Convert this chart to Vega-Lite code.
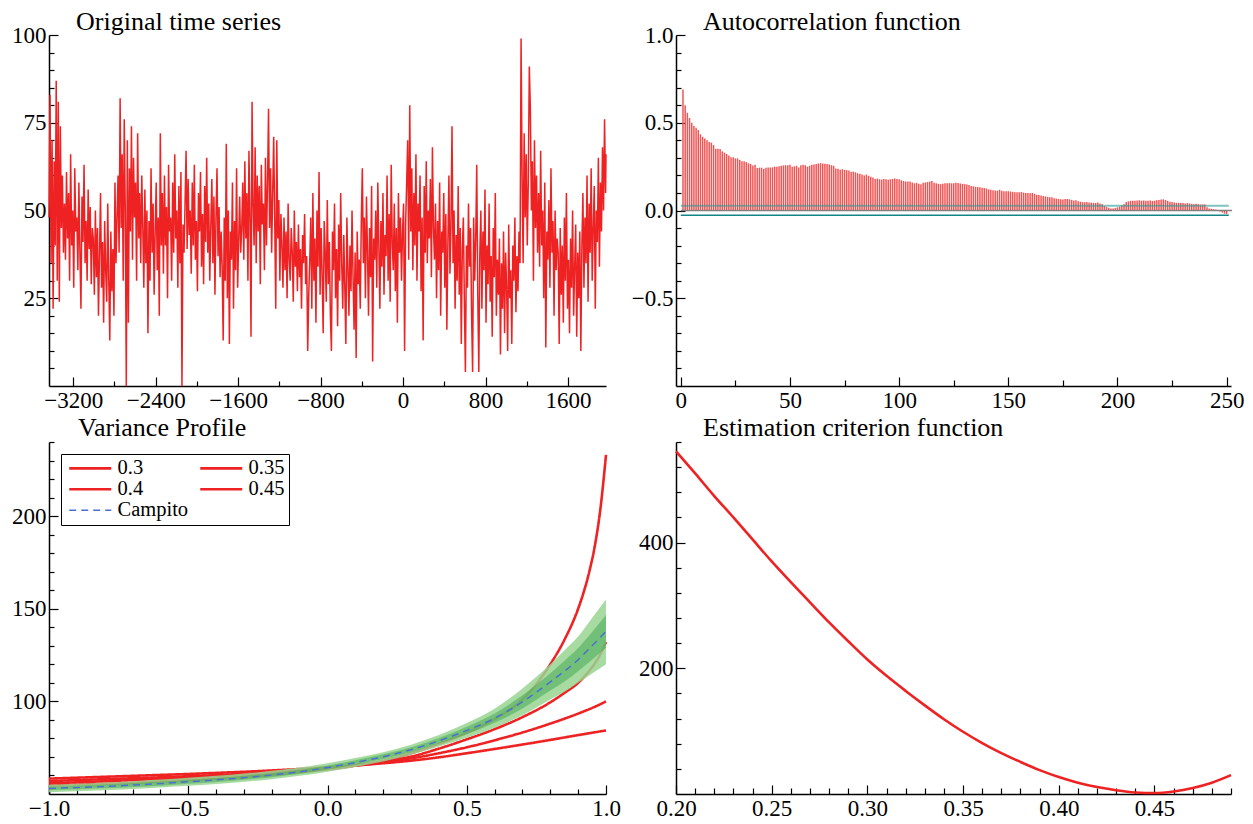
{
"$schema": "https://vega.github.io/schema/vega-lite/v6.json",
"background": "white",
"padding": {"left": 11, "top": 9, "right": 5, "bottom": 0},
"datasets": {
"ts": [
{"yr":-3435,"w":48},{"yr":-3425,"w":83},{"yr":-3415,"w":35},{"yr":-3405,"w":70},{"yr":-3395,"w":22},{"yr":-3385,"w":64},{"yr":-3375,"w":40},{"yr":-3365,"w":87},{"yr":-3355,"w":30},{"yr":-3345,"w":81},{"yr":-3335,"w":24},{"yr":-3325,"w":74},{"yr":-3315,"w":45},{"yr":-3305,"w":60},{"yr":-3295,"w":38},
{"yr":-3285,"w":52},{"yr":-3275,"w":36},{"yr":-3265,"w":61},{"yr":-3255,"w":42},{"yr":-3245,"w":55},{"yr":-3235,"w":30},{"yr":-3225,"w":66},{"yr":-3215,"w":40},{"yr":-3205,"w":50},{"yr":-3195,"w":28},{"yr":-3185,"w":62},{"yr":-3175,"w":44},{"yr":-3165,"w":48},{"yr":-3155,"w":33},{"yr":-3145,"w":58},{"yr":-3135,"w":38},{"yr":-3125,"w":22},{"yr":-3115,"w":54},{"yr":-3105,"w":41},{"yr":-3095,"w":63},{"yr":-3085,"w":35},{"yr":-3075,"w":47},{"yr":-3065,"w":30},{"yr":-3055,"w":56},{"yr":-3045,"w":39},{"yr":-3035,"w":51},{"yr":-3025,"w":29},{"yr":-3015,"w":45},
{"yr":-3005,"w":42},{"yr":-2995,"w":26},{"yr":-2985,"w":50},{"yr":-2975,"w":31},{"yr":-2965,"w":45},{"yr":-2955,"w":20},{"yr":-2945,"w":38},{"yr":-2935,"w":55},{"yr":-2925,"w":28},{"yr":-2915,"w":41},{"yr":-2905,"w":18},{"yr":-2895,"w":47},{"yr":-2885,"w":33},{"yr":-2875,"w":24},{"yr":-2865,"w":52},{"yr":-2855,"w":30},{"yr":-2845,"w":13},{"yr":-2835,"w":44},{"yr":-2825,"w":27},{"yr":-2815,"w":39},{"yr":-2805,"w":20},{"yr":-2795,"w":58},{"yr":-2785,"w":35},{"yr":-2775,"w":48},
{"yr":-2765,"w":60},{"yr":-2755,"w":38},{"yr":-2745,"w":82},{"yr":-2735,"w":45},{"yr":-2725,"w":66},{"yr":-2715,"w":30},{"yr":-2705,"w":76},{"yr":-2695,"w":50},{"yr":-2685,"w":0},{"yr":-2675,"w":70},{"yr":-2665,"w":18},{"yr":-2655,"w":62},{"yr":-2645,"w":44},{"yr":-2635,"w":74},{"yr":-2625,"w":36},{"yr":-2615,"w":65},{"yr":-2605,"w":48},{"yr":-2595,"w":58},{"yr":-2585,"w":30},{"yr":-2575,"w":72},{"yr":-2565,"w":42},{"yr":-2555,"w":55},{"yr":-2545,"w":35},{"yr":-2535,"w":60},
{"yr":-2525,"w":45},{"yr":-2515,"w":28},{"yr":-2505,"w":56},{"yr":-2495,"w":35},{"yr":-2485,"w":50},{"yr":-2475,"w":15},{"yr":-2465,"w":47},{"yr":-2455,"w":30},{"yr":-2445,"w":62},{"yr":-2435,"w":38},{"yr":-2425,"w":52},{"yr":-2415,"w":26},{"yr":-2405,"w":44},{"yr":-2395,"w":58},{"yr":-2385,"w":33},{"yr":-2375,"w":48},{"yr":-2365,"w":20},{"yr":-2355,"w":72},{"yr":-2345,"w":40},
{"yr":-2335,"w":55},{"yr":-2325,"w":32},{"yr":-2315,"w":60},{"yr":-2305,"w":40},{"yr":-2295,"w":51},{"yr":-2285,"w":25},{"yr":-2275,"w":63},{"yr":-2265,"w":44},{"yr":-2255,"w":48},{"yr":-2245,"w":30},{"yr":-2235,"w":58},{"yr":-2225,"w":38},{"yr":-2215,"w":66},{"yr":-2205,"w":42},{"yr":-2195,"w":50},{"yr":-2185,"w":28},{"yr":-2175,"w":57},{"yr":-2165,"w":35},{"yr":-2155,"w":61},{"yr":-2145,"w":0},{"yr":-2135,"w":46},{"yr":-2125,"w":38},{"yr":-2115,"w":52},{"yr":-2105,"w":67},{"yr":-2095,"w":39},{"yr":-2085,"w":59},{"yr":-2075,"w":43},
{"yr":-2065,"w":50},{"yr":-2055,"w":32},{"yr":-2045,"w":58},{"yr":-2035,"w":40},{"yr":-2025,"w":63},{"yr":-2015,"w":36},{"yr":-2005,"w":47},{"yr":-1995,"w":27},{"yr":-1985,"w":55},{"yr":-1975,"w":44},{"yr":-1965,"w":61},{"yr":-1955,"w":34},{"yr":-1945,"w":49},{"yr":-1935,"w":29},{"yr":-1925,"w":57},{"yr":-1915,"w":41},{"yr":-1905,"w":65},{"yr":-1895,"w":38},{"yr":-1885,"w":52},{"yr":-1875,"w":30},{"yr":-1865,"w":46},{"yr":-1855,"w":59},{"yr":-1845,"w":35},{"yr":-1835,"w":54},{"yr":-1825,"w":26},{"yr":-1815,"w":48},{"yr":-1805,"w":62},{"yr":-1795,"w":37},{"yr":-1785,"w":51},{"yr":-1775,"w":31},{"yr":-1765,"w":44},
{"yr":-1755,"w":34},{"yr":-1745,"w":13},{"yr":-1735,"w":48},{"yr":-1725,"w":30},{"yr":-1715,"w":69},{"yr":-1705,"w":25},{"yr":-1695,"w":50},{"yr":-1685,"w":12},{"yr":-1675,"w":44},{"yr":-1665,"w":36},{"yr":-1655,"w":58},{"yr":-1645,"w":22},{"yr":-1635,"w":47},{"yr":-1625,"w":33},{"yr":-1615,"w":62},{"yr":-1605,"w":28},{"yr":-1595,"w":41},{"yr":-1585,"w":54},{"yr":-1575,"w":38},
{"yr":-1565,"w":45},{"yr":-1555,"w":58},{"yr":-1545,"w":36},{"yr":-1535,"w":64},{"yr":-1525,"w":42},{"yr":-1515,"w":55},{"yr":-1505,"w":30},{"yr":-1495,"w":67},{"yr":-1485,"w":48},{"yr":-1475,"w":14},{"yr":-1465,"w":81},{"yr":-1455,"w":52},{"yr":-1445,"w":40},{"yr":-1435,"w":68},{"yr":-1425,"w":35},{"yr":-1415,"w":60},{"yr":-1405,"w":44},{"yr":-1395,"w":57},{"yr":-1385,"w":29},{"yr":-1375,"w":63},{"yr":-1365,"w":46},{"yr":-1355,"w":52},{"yr":-1345,"w":33},{"yr":-1335,"w":65},{"yr":-1325,"w":40},{"yr":-1315,"w":58},{"yr":-1305,"w":79},{"yr":-1295,"w":45},{"yr":-1285,"w":62},{"yr":-1275,"w":38},{"yr":-1265,"w":55},{"yr":-1255,"w":71},{"yr":-1245,"w":47},{"yr":-1235,"w":22},{"yr":-1225,"w":70},{"yr":-1215,"w":42},{"yr":-1205,"w":53},{"yr":-1195,"w":30},{"yr":-1185,"w":49},
{"yr":-1175,"w":40},{"yr":-1165,"w":28},{"yr":-1155,"w":48},{"yr":-1145,"w":33},{"yr":-1135,"w":44},{"yr":-1125,"w":25},{"yr":-1115,"w":52},{"yr":-1105,"w":36},{"yr":-1095,"w":30},{"yr":-1085,"w":45},{"yr":-1075,"w":38},{"yr":-1065,"w":24},{"yr":-1055,"w":50},{"yr":-1045,"w":34},{"yr":-1035,"w":41},{"yr":-1025,"w":27},{"yr":-1015,"w":46},{"yr":-1005,"w":31},{"yr":-995,"w":39},{"yr":-985,"w":22},{"yr":-975,"w":43},{"yr":-965,"w":35},{"yr":-955,"w":49},{"yr":-945,"w":29},{"yr":-935,"w":37},{"yr":-925,"w":10},{"yr":-915,"w":26},
{"yr":-905,"w":36},{"yr":-895,"w":48},{"yr":-885,"w":22},{"yr":-875,"w":55},{"yr":-865,"w":30},{"yr":-855,"w":42},{"yr":-845,"w":18},{"yr":-835,"w":50},{"yr":-825,"w":34},{"yr":-815,"w":61},{"yr":-805,"w":26},{"yr":-795,"w":45},{"yr":-785,"w":32},{"yr":-775,"w":15},{"yr":-765,"w":47},{"yr":-755,"w":38},{"yr":-745,"w":24},{"yr":-735,"w":53},{"yr":-725,"w":29},{"yr":-715,"w":41},{"yr":-705,"w":20},{"yr":-695,"w":10},{"yr":-685,"w":44},{"yr":-675,"w":33},{"yr":-665,"w":52},{"yr":-655,"w":25},{"yr":-645,"w":39},{"yr":-635,"w":17},{"yr":-625,"w":46},{"yr":-615,"w":30},{"yr":-605,"w":55},{"yr":-595,"w":35},{"yr":-585,"w":22},{"yr":-575,"w":43},{"yr":-565,"w":28},{"yr":-555,"w":12},{"yr":-545,"w":48},{"yr":-535,"w":34},{"yr":-525,"w":20},{"yr":-515,"w":40},{"yr":-505,"w":27},{"yr":-495,"w":50},{"yr":-485,"w":31},{"yr":-475,"w":16},{"yr":-465,"w":38},{"yr":-455,"w":8},{"yr":-445,"w":44},{"yr":-435,"w":29},{"yr":-425,"w":36},{"yr":-415,"w":22},{"yr":-405,"w":47},
{"yr":-395,"w":62},{"yr":-385,"w":35},{"yr":-375,"w":48},{"yr":-365,"w":25},{"yr":-355,"w":54},{"yr":-345,"w":38},{"yr":-335,"w":20},{"yr":-325,"w":45},{"yr":-315,"w":31},{"yr":-305,"w":57},{"yr":-295,"w":7},{"yr":-285,"w":42},{"yr":-275,"w":36},{"yr":-265,"w":50},{"yr":-255,"w":28},{"yr":-245,"w":58},{"yr":-235,"w":40},{"yr":-225,"w":22},{"yr":-215,"w":47},{"yr":-205,"w":34},{"yr":-195,"w":55},{"yr":-185,"w":26},{"yr":-175,"w":43},{"yr":-165,"w":37},{"yr":-155,"w":60},{"yr":-145,"w":30},{"yr":-135,"w":49},{"yr":-125,"w":24},{"yr":-115,"w":63},{"yr":-105,"w":41},{"yr":-95,"w":33},{"yr":-85,"w":52},{"yr":-75,"w":27},{"yr":-65,"w":45},{"yr":-55,"w":18},{"yr":-45,"w":55},{"yr":-35,"w":38},{"yr":-25,"w":48},{"yr":-15,"w":30},{"yr":-5,"w":44},
{"yr":5,"w":52},{"yr":15,"w":10},{"yr":25,"w":46},{"yr":35,"w":58},{"yr":45,"w":70},{"yr":55,"w":36},{"yr":65,"w":80},{"yr":75,"w":44},{"yr":85,"w":62},{"yr":95,"w":33},{"yr":105,"w":55},{"yr":115,"w":40},{"yr":125,"w":66},{"yr":135,"w":30},{"yr":145,"w":52},{"yr":155,"w":44},{"yr":165,"w":60},{"yr":175,"w":27},{"yr":185,"w":48},{"yr":195,"w":13},{"yr":205,"w":57},{"yr":215,"w":38},{"yr":225,"w":64},{"yr":235,"w":35},{"yr":245,"w":50},{"yr":255,"w":42},{"yr":265,"w":59},{"yr":275,"w":31},{"yr":285,"w":68},{"yr":295,"w":45},
{"yr":305,"w":36},{"yr":315,"w":52},{"yr":325,"w":25},{"yr":335,"w":47},{"yr":345,"w":33},{"yr":355,"w":58},{"yr":365,"w":20},{"yr":375,"w":44},{"yr":385,"w":38},{"yr":395,"w":55},{"yr":405,"w":28},{"yr":415,"w":49},{"yr":425,"w":16},{"yr":435,"w":41},{"yr":445,"w":60},{"yr":455,"w":32},{"yr":465,"w":46},{"yr":475,"w":74},{"yr":485,"w":35},{"yr":495,"w":50},{"yr":505,"w":22},{"yr":515,"w":43},{"yr":525,"w":30},{"yr":535,"w":57},{"yr":545,"w":26},{"yr":555,"w":45},{"yr":565,"w":12},{"yr":575,"w":39},{"yr":585,"w":48},{"yr":595,"w":24},{"yr":605,"w":4},
{"yr":615,"w":40},{"yr":625,"w":28},{"yr":635,"w":52},{"yr":645,"w":34},{"yr":655,"w":45},{"yr":665,"w":20},{"yr":675,"w":4},{"yr":685,"w":48},{"yr":695,"w":30},{"yr":705,"w":42},{"yr":715,"w":63},{"yr":725,"w":26},{"yr":735,"w":4},{"yr":745,"w":38},{"yr":755,"w":50},{"yr":765,"w":22},{"yr":775,"w":44},{"yr":785,"w":33},{"yr":795,"w":56},{"yr":805,"w":18},{"yr":815,"w":40},{"yr":825,"w":29},{"yr":835,"w":52},{"yr":845,"w":24},{"yr":855,"w":37},{"yr":865,"w":14},{"yr":875,"w":45},{"yr":885,"w":31},{"yr":895,"w":55},{"yr":905,"w":20},{"yr":915,"w":36},
{"yr":925,"w":26},{"yr":935,"w":42},{"yr":945,"w":9},{"yr":955,"w":35},{"yr":965,"w":22},{"yr":975,"w":44},{"yr":985,"w":15},{"yr":995,"w":38},{"yr":1005,"w":28},{"yr":1015,"w":10},{"yr":1025,"w":46},{"yr":1035,"w":25},{"yr":1045,"w":33},{"yr":1055,"w":12},{"yr":1065,"w":40},{"yr":1075,"w":30},{"yr":1085,"w":48},{"yr":1095,"w":21},{"yr":1105,"w":37},{"yr":1115,"w":27},{"yr":1125,"w":44},{"yr":1135,"w":35},{"yr":1145,"w":99},
{"yr":1155,"w":60},{"yr":1165,"w":35},{"yr":1175,"w":72},{"yr":1185,"w":48},{"yr":1195,"w":66},{"yr":1205,"w":40},{"yr":1215,"w":58},{"yr":1225,"w":91},{"yr":1235,"w":79},{"yr":1245,"w":50},{"yr":1255,"w":64},{"yr":1265,"w":30},{"yr":1275,"w":70},{"yr":1285,"w":45},{"yr":1295,"w":60},{"yr":1305,"w":38},
{"yr":1315,"w":55},{"yr":1325,"w":34},{"yr":1335,"w":67},{"yr":1345,"w":40},{"yr":1355,"w":50},{"yr":1365,"w":25},{"yr":1375,"w":58},{"yr":1385,"w":11},{"yr":1395,"w":44},{"yr":1405,"w":36},{"yr":1415,"w":53},{"yr":1425,"w":28},{"yr":1435,"w":62},{"yr":1445,"w":38},{"yr":1455,"w":47},{"yr":1465,"w":20},{"yr":1475,"w":50},{"yr":1485,"w":33},{"yr":1495,"w":42},
{"yr":1505,"w":38},{"yr":1515,"w":12},{"yr":1525,"w":45},{"yr":1535,"w":26},{"yr":1545,"w":40},{"yr":1555,"w":18},{"yr":1565,"w":48},{"yr":1575,"w":30},{"yr":1585,"w":55},{"yr":1595,"w":22},{"yr":1605,"w":36},{"yr":1615,"w":15},{"yr":1625,"w":42},{"yr":1635,"w":28},{"yr":1645,"w":50},{"yr":1655,"w":20},{"yr":1665,"w":34},{"yr":1675,"w":46},{"yr":1685,"w":14},{"yr":1695,"w":38},{"yr":1705,"w":25},{"yr":1715,"w":44},{"yr":1725,"w":10},
{"yr":1735,"w":40},{"yr":1745,"w":55},{"yr":1755,"w":28},{"yr":1765,"w":48},{"yr":1775,"w":35},{"yr":1785,"w":60},{"yr":1795,"w":24},{"yr":1805,"w":52},{"yr":1815,"w":38},{"yr":1825,"w":62},{"yr":1835,"w":30},{"yr":1845,"w":45},{"yr":1855,"w":57},{"yr":1865,"w":22},{"yr":1875,"w":50},{"yr":1885,"w":41},{"yr":1895,"w":65},{"yr":1905,"w":34},{"yr":1915,"w":58},{"yr":1925,"w":44},{"yr":1935,"w":68},{"yr":1945,"w":50},{"yr":1955,"w":76},{"yr":1965,"w":55},{"yr":1969,"w":66}
],
"acf": [
{"lag":1,"r":0.69},{"lag":2,"r":0.6},{"lag":3,"r":0.557},{"lag":4,"r":0.527},{"lag":5,"r":0.5},{"lag":6,"r":0.482},{"lag":7,"r":0.472},{"lag":8,"r":0.459},{"lag":9,"r":0.434},{"lag":10,"r":0.42},
{"lag":11,"r":0.41},{"lag":12,"r":0.4},{"lag":13,"r":0.39},{"lag":14,"r":0.387},{"lag":15,"r":0.373},{"lag":16,"r":0.352},{"lag":17,"r":0.352},{"lag":18,"r":0.35},{"lag":19,"r":0.337},{"lag":20,"r":0.33},
{"lag":21,"r":0.322},{"lag":22,"r":0.314},{"lag":23,"r":0.303},{"lag":24,"r":0.303},{"lag":25,"r":0.297},{"lag":26,"r":0.297},{"lag":27,"r":0.288},{"lag":28,"r":0.28},{"lag":29,"r":0.28},{"lag":30,"r":0.276},
{"lag":31,"r":0.269},{"lag":32,"r":0.265},{"lag":33,"r":0.257},{"lag":34,"r":0.26},{"lag":35,"r":0.242},{"lag":36,"r":0.244},{"lag":37,"r":0.244},{"lag":38,"r":0.236},{"lag":39,"r":0.244},{"lag":40,"r":0.245},
{"lag":41,"r":0.245},{"lag":42,"r":0.246},{"lag":43,"r":0.25},{"lag":44,"r":0.25},{"lag":45,"r":0.252},{"lag":46,"r":0.255},{"lag":47,"r":0.257},{"lag":48,"r":0.258},{"lag":49,"r":0.258},{"lag":50,"r":0.26},
{"lag":51,"r":0.25},{"lag":52,"r":0.252},{"lag":53,"r":0.255},{"lag":54,"r":0.245},{"lag":55,"r":0.258},{"lag":56,"r":0.26},{"lag":57,"r":0.258},{"lag":58,"r":0.25},{"lag":59,"r":0.255},{"lag":60,"r":0.26},
{"lag":61,"r":0.262},{"lag":62,"r":0.265},{"lag":63,"r":0.268},{"lag":64,"r":0.27},{"lag":65,"r":0.268},{"lag":66,"r":0.266},{"lag":67,"r":0.265},{"lag":68,"r":0.262},{"lag":69,"r":0.258},{"lag":70,"r":0.255},
{"lag":71,"r":0.24},{"lag":72,"r":0.238},{"lag":73,"r":0.232},{"lag":74,"r":0.235},{"lag":75,"r":0.232},{"lag":76,"r":0.23},{"lag":77,"r":0.228},{"lag":78,"r":0.22},{"lag":79,"r":0.222},{"lag":80,"r":0.218},
{"lag":81,"r":0.212},{"lag":82,"r":0.21},{"lag":83,"r":0.205},{"lag":84,"r":0.2},{"lag":85,"r":0.205},{"lag":86,"r":0.198},{"lag":87,"r":0.192},{"lag":88,"r":0.188},{"lag":89,"r":0.18},{"lag":90,"r":0.182},
{"lag":91,"r":0.178},{"lag":92,"r":0.176},{"lag":93,"r":0.18},{"lag":94,"r":0.178},{"lag":95,"r":0.175},{"lag":96,"r":0.178},{"lag":97,"r":0.18},{"lag":98,"r":0.182},{"lag":99,"r":0.18},{"lag":100,"r":0.178},
{"lag":101,"r":0.172},{"lag":102,"r":0.168},{"lag":103,"r":0.165},{"lag":104,"r":0.165},{"lag":105,"r":0.165},{"lag":106,"r":0.16},{"lag":107,"r":0.155},{"lag":108,"r":0.158},{"lag":109,"r":0.152},{"lag":110,"r":0.15},
{"lag":111,"r":0.158},{"lag":112,"r":0.16},{"lag":113,"r":0.162},{"lag":114,"r":0.165},{"lag":115,"r":0.168},{"lag":116,"r":0.158},{"lag":117,"r":0.155},{"lag":118,"r":0.152},{"lag":119,"r":0.15},{"lag":120,"r":0.152},
{"lag":121,"r":0.155},{"lag":122,"r":0.155},{"lag":123,"r":0.156},{"lag":124,"r":0.155},{"lag":125,"r":0.155},{"lag":126,"r":0.158},{"lag":127,"r":0.156},{"lag":128,"r":0.154},{"lag":129,"r":0.152},{"lag":130,"r":0.15},
{"lag":131,"r":0.148},{"lag":132,"r":0.145},{"lag":133,"r":0.14},{"lag":134,"r":0.138},{"lag":135,"r":0.135},{"lag":136,"r":0.134},{"lag":137,"r":0.132},{"lag":138,"r":0.13},{"lag":139,"r":0.128},{"lag":140,"r":0.125},
{"lag":141,"r":0.12},{"lag":142,"r":0.118},{"lag":143,"r":0.115},{"lag":144,"r":0.114},{"lag":145,"r":0.113},{"lag":146,"r":0.118},{"lag":147,"r":0.112},{"lag":148,"r":0.11},{"lag":149,"r":0.11},{"lag":150,"r":0.11},
{"lag":151,"r":0.108},{"lag":152,"r":0.106},{"lag":153,"r":0.104},{"lag":154,"r":0.104},{"lag":155,"r":0.104},{"lag":156,"r":0.105},{"lag":157,"r":0.102},{"lag":158,"r":0.1},{"lag":159,"r":0.1},{"lag":160,"r":0.098},
{"lag":161,"r":0.1},{"lag":162,"r":0.095},{"lag":163,"r":0.09},{"lag":164,"r":0.088},{"lag":165,"r":0.085},{"lag":166,"r":0.083},{"lag":167,"r":0.08},{"lag":168,"r":0.078},{"lag":169,"r":0.076},{"lag":170,"r":0.075},
{"lag":171,"r":0.07},{"lag":172,"r":0.068},{"lag":173,"r":0.066},{"lag":174,"r":0.064},{"lag":175,"r":0.062},{"lag":176,"r":0.065},{"lag":177,"r":0.066},{"lag":178,"r":0.064},{"lag":179,"r":0.06},{"lag":180,"r":0.057},
{"lag":181,"r":0.058},{"lag":182,"r":0.052},{"lag":183,"r":0.05},{"lag":184,"r":0.048},{"lag":185,"r":0.047},{"lag":186,"r":0.048},{"lag":187,"r":0.046},{"lag":188,"r":0.045},{"lag":189,"r":0.044},{"lag":190,"r":0.043},
{"lag":191,"r":0.045},{"lag":192,"r":0.04},{"lag":193,"r":0.035},{"lag":194,"r":0.025},{"lag":195,"r":0.02},{"lag":196,"r":0.015},{"lag":197,"r":0.012},{"lag":198,"r":0.012},{"lag":199,"r":0.014},{"lag":200,"r":0.018},
{"lag":201,"r":0.022},{"lag":202,"r":0.028},{"lag":203,"r":0.035},{"lag":204,"r":0.048},{"lag":205,"r":0.052},{"lag":206,"r":0.055},{"lag":207,"r":0.056},{"lag":208,"r":0.055},{"lag":209,"r":0.057},{"lag":210,"r":0.058},
{"lag":211,"r":0.056},{"lag":212,"r":0.057},{"lag":213,"r":0.055},{"lag":214,"r":0.056},{"lag":215,"r":0.057},{"lag":216,"r":0.055},{"lag":217,"r":0.056},{"lag":218,"r":0.058},{"lag":219,"r":0.06},{"lag":220,"r":0.062},
{"lag":221,"r":0.064},{"lag":222,"r":0.06},{"lag":223,"r":0.055},{"lag":224,"r":0.05},{"lag":225,"r":0.049},{"lag":226,"r":0.046},{"lag":227,"r":0.044},{"lag":228,"r":0.044},{"lag":229,"r":0.043},{"lag":230,"r":0.043},
{"lag":231,"r":0.04},{"lag":232,"r":0.042},{"lag":233,"r":0.04},{"lag":234,"r":0.038},{"lag":235,"r":0.036},{"lag":236,"r":0.038},{"lag":237,"r":0.036},{"lag":238,"r":0.034},{"lag":239,"r":0.035},{"lag":240,"r":0.034},
{"lag":241,"r":0.018},{"lag":242,"r":0.012},{"lag":243,"r":0.01},{"lag":244,"r":0.008},{"lag":245,"r":0.005},{"lag":246,"r":0.002},{"lag":247,"r":-0.005},{"lag":248,"r":-0.012},{"lag":249,"r":-0.018},{"lag":250,"r":-0.02}
],
"hl": [
{"kind":"upper","from":0,"to":251,"level":0.027},
{"kind":"zero","from":0,"to":252.5,"level":0},
{"kind":"lower","from":0,"to":251,"level":-0.027}
],
"vp": [
{"x":-1,"s":"0.3","v":54.5},{"x":-0.9,"s":"0.3","v":55},{"x":-0.8,"s":"0.3","v":55.5},{"x":-0.7,"s":"0.3","v":56},{"x":-0.6,"s":"0.3","v":56.8},{"x":-0.5,"s":"0.3","v":57.5},{"x":-0.4,"s":"0.3","v":58.3},{"x":-0.3,"s":"0.3","v":59.2},{"x":-0.2,"s":"0.3","v":60.3},{"x":-0.1,"s":"0.3","v":61.7},{"x":0,"s":"0.3","v":63.3},{"x":0.1,"s":"0.3","v":65.3},{"x":0.2,"s":"0.3","v":68},{"x":0.3,"s":"0.3","v":72},{"x":0.4,"s":"0.3","v":77},{"x":0.5,"s":"0.3","v":83},{"x":0.6,"s":"0.3","v":90.5},{"x":0.7,"s":"0.3","v":101},{"x":0.8,"s":"0.3","v":120},{"x":0.85,"s":"0.3","v":133},{"x":0.9,"s":"0.3","v":150},{"x":0.92,"s":"0.3","v":159},{"x":0.94,"s":"0.3","v":170},{"x":0.96,"s":"0.3","v":184},{"x":0.98,"s":"0.3","v":204},{"x":1,"s":"0.3","v":233},
{"x":-1,"s":"0.35","v":55.8},{"x":-0.9,"s":"0.35","v":56.3},{"x":-0.8,"s":"0.35","v":56.9},{"x":-0.7,"s":"0.35","v":57.5},{"x":-0.6,"s":"0.35","v":58.1},{"x":-0.5,"s":"0.35","v":58.8},{"x":-0.4,"s":"0.35","v":59.6},{"x":-0.3,"s":"0.35","v":60.4},{"x":-0.2,"s":"0.35","v":61.4},{"x":-0.1,"s":"0.35","v":62.3},{"x":0,"s":"0.35","v":63.7},{"x":0.1,"s":"0.35","v":65.5},{"x":0.2,"s":"0.35","v":67.6},{"x":0.3,"s":"0.35","v":70.2},{"x":0.4,"s":"0.35","v":74.5},{"x":0.5,"s":"0.35","v":79.5},{"x":0.6,"s":"0.35","v":85},{"x":0.7,"s":"0.35","v":91.5},{"x":0.8,"s":"0.35","v":99.5},{"x":0.85,"s":"0.35","v":104.5},{"x":0.9,"s":"0.35","v":110},{"x":0.92,"s":"0.35","v":113},{"x":0.94,"s":"0.35","v":116.5},{"x":0.96,"s":"0.35","v":120.5},{"x":0.98,"s":"0.35","v":125.5},{"x":1,"s":"0.35","v":132},
{"x":-1,"s":"0.4","v":57},{"x":-0.9,"s":"0.4","v":57.5},{"x":-0.8,"s":"0.4","v":58},{"x":-0.7,"s":"0.4","v":58.5},{"x":-0.6,"s":"0.4","v":59},{"x":-0.5,"s":"0.4","v":59.6},{"x":-0.4,"s":"0.4","v":60.2},{"x":-0.3,"s":"0.4","v":60.9},{"x":-0.2,"s":"0.4","v":61.7},{"x":-0.1,"s":"0.4","v":62.9},{"x":0,"s":"0.4","v":64.1},{"x":0.1,"s":"0.4","v":65.4},{"x":0.2,"s":"0.4","v":67},{"x":0.3,"s":"0.4","v":69.2},{"x":0.4,"s":"0.4","v":72},{"x":0.5,"s":"0.4","v":75.2},{"x":0.6,"s":"0.4","v":79},{"x":0.7,"s":"0.4","v":83.2},{"x":0.8,"s":"0.4","v":88},{"x":0.85,"s":"0.4","v":90.6},{"x":0.9,"s":"0.4","v":93.4},{"x":0.92,"s":"0.4","v":94.6},{"x":0.94,"s":"0.4","v":95.8},{"x":0.96,"s":"0.4","v":97.1},{"x":0.98,"s":"0.4","v":98.5},{"x":1,"s":"0.4","v":100},
{"x":-1,"s":"0.45","v":58.3},{"x":-0.9,"s":"0.45","v":58.8},{"x":-0.8,"s":"0.45","v":59.3},{"x":-0.7,"s":"0.45","v":59.8},{"x":-0.6,"s":"0.45","v":60.3},{"x":-0.5,"s":"0.45","v":60.8},{"x":-0.4,"s":"0.45","v":61.4},{"x":-0.3,"s":"0.45","v":62},{"x":-0.2,"s":"0.45","v":62.7},{"x":-0.1,"s":"0.45","v":63.5},{"x":0,"s":"0.45","v":64.4},{"x":0.1,"s":"0.45","v":65.4},{"x":0.2,"s":"0.45","v":66.6},{"x":0.3,"s":"0.45","v":68},{"x":0.4,"s":"0.45","v":69.8},{"x":0.5,"s":"0.45","v":72},{"x":0.6,"s":"0.45","v":74.3},{"x":0.7,"s":"0.45","v":76.7},{"x":0.8,"s":"0.45","v":79.2},{"x":0.85,"s":"0.45","v":80.5},{"x":0.9,"s":"0.45","v":81.8},{"x":0.92,"s":"0.45","v":82.3},{"x":0.94,"s":"0.45","v":82.8},{"x":0.96,"s":"0.45","v":83.3},{"x":0.98,"s":"0.45","v":83.8},{"x":1,"s":"0.45","v":84.3},
{"x":-1,"s":"Campito","v":53},{"x":-0.9,"s":"Campito","v":53.5},{"x":-0.8,"s":"Campito","v":54.1},{"x":-0.7,"s":"Campito","v":54.8},{"x":-0.6,"s":"Campito","v":55.6},{"x":-0.5,"s":"Campito","v":56.6},{"x":-0.4,"s":"Campito","v":57.6},{"x":-0.3,"s":"Campito","v":58.8},{"x":-0.2,"s":"Campito","v":60.2},{"x":-0.1,"s":"Campito","v":62},{"x":0,"s":"Campito","v":64.3},{"x":0.1,"s":"Campito","v":67},{"x":0.2,"s":"Campito","v":70.1},{"x":0.3,"s":"Campito","v":73.9},{"x":0.4,"s":"Campito","v":78.7},{"x":0.5,"s":"Campito","v":84.3},{"x":0.6,"s":"Campito","v":90.9},{"x":0.7,"s":"Campito","v":99.7},{"x":0.8,"s":"Campito","v":110.5},{"x":0.85,"s":"Campito","v":116.2},{"x":0.9,"s":"Campito","v":122.5},{"x":0.95,"s":"Campito","v":130},{"x":1,"s":"Campito","v":137.8}
],
"band": [
{"x":-1,"lo":51,"hi":55,"ilo":52,"ihi":54},{"x":-0.9,"lo":51.5,"hi":55.5,"ilo":52.5,"ihi":54.5},{"x":-0.8,"lo":52,"hi":56.2,"ilo":53.1,"ihi":55.1},{"x":-0.7,"lo":52.7,"hi":56.9,"ilo":53.8,"ihi":55.9},{"x":-0.6,"lo":53.5,"hi":57.8,"ilo":54.5,"ihi":56.7},{"x":-0.5,"lo":54.4,"hi":58.8,"ilo":55.5,"ihi":57.7},{"x":-0.4,"lo":55.4,"hi":59.8,"ilo":56.5,"ihi":58.7},{"x":-0.3,"lo":56.6,"hi":61,"ilo":57.7,"ihi":59.9},{"x":-0.2,"lo":58,"hi":62.5,"ilo":59.1,"ihi":61.3},{"x":-0.1,"lo":59.8,"hi":64.3,"ilo":60.9,"ihi":63.1},{"x":0,"lo":62,"hi":66.6,"ilo":63.2,"ihi":65.4},{"x":0.1,"lo":64.6,"hi":69.4,"ilo":65.8,"ihi":68.2},{"x":0.2,"lo":67.6,"hi":72.6,"ilo":68.9,"ihi":71.4},{"x":0.3,"lo":71.2,"hi":76.6,"ilo":72.6,"ihi":75.2},{"x":0.4,"lo":75.6,"hi":81.8,"ilo":77.2,"ihi":80.2},{"x":0.5,"lo":80.3,"hi":88.3,"ilo":82.3,"ihi":86.3},{"x":0.6,"lo":85.8,"hi":96,"ilo":88.4,"ihi":93.5},{"x":0.7,"lo":92.5,"hi":107,"ilo":96.1,"ihi":103.3},{"x":0.8,"lo":101,"hi":120,"ilo":105.8,"ihi":115.2},{"x":0.85,"lo":105,"hi":127.5,"ilo":110.6,"ihi":121.8},{"x":0.9,"lo":110,"hi":135,"ilo":116.3,"ihi":128.8},{"x":0.95,"lo":115,"hi":145,"ilo":122.5,"ihi":137.5},{"x":1,"lo":120,"hi":155,"ilo":129,"ihi":146.6}
],
"crit": [
{"d":0.2,"q":545},{"d":0.21,"q":510},{"d":0.22,"q":474},{"d":0.23,"q":440},{"d":0.24,"q":405},{"d":0.25,"q":370},{"d":0.26,"q":337},{"d":0.27,"q":305},{"d":0.28,"q":273},{"d":0.29,"q":243},{"d":0.3,"q":214},{"d":0.31,"q":188},{"d":0.32,"q":164},{"d":0.33,"q":141},{"d":0.34,"q":119},{"d":0.35,"q":99},{"d":0.36,"q":81},{"d":0.37,"q":65},{"d":0.38,"q":51},{"d":0.39,"q":38},{"d":0.4,"q":27},{"d":0.41,"q":18},{"d":0.42,"q":11},{"d":0.43,"q":6},{"d":0.44,"q":2.5},{"d":0.45,"q":1.5},{"d":0.46,"q":4},{"d":0.47,"q":9.5},{"d":0.48,"q":18},{"d":0.49,"q":30}
]
},
"concat": [
{
"width": 557, "height": 351,
"title": {"text": "Original time series", "offset": -11},
"data": {"name": "ts"},
"resolve": {"axis": {"x": "independent", "y": "independent"}},
"layer": [
{"mark": {"type": "line", "color": "#ee2222", "strokeWidth": 1.5},
"encoding": {
"x": {"field": "yr", "type": "quantitative", "scale": {"domain": [-3435, 1969], "nice": false, "zero": false},
"axis": {"title": null, "orient": "bottom", "format": "d", "values": [-3200,-2400,-1600,-800,0,800,1600], "tickSize": -9}},
"y": {"field": "w", "type": "quantitative", "scale": {"domain": [0, 100], "nice": false},
"axis": {"title": null, "orient": "left", "format": "d", "values": [25,50,75,100], "tickSize": -9}}
}},
{"mark": {"type": "point", "opacity": 0},
"encoding": {
"x": {"field": "yr", "type": "quantitative", "axis": {"title": null, "orient": "bottom", "labels": false, "domain": false, "values": [-2800,-2000,-1200,-400,400,1200], "tickSize": -5}},
"y": {"field": "w", "type": "quantitative", "axis": {"title": null, "orient": "left", "labels": false, "domain": false, "values": [5,10,15,20,30,35,40,45,55,60,65,70,80,85,90,95], "tickSize": -5}}
}}
]
},
{
"width": 555, "height": 351,
"title": {"text": "Autocorrelation function", "offset": -11},
"resolve": {"axis": {"x": "independent", "y": "independent"}},
"layer": [
{"data": {"name": "acf"}, "mark": {"type": "rule", "color": "#f05555", "strokeWidth": 1.5},
"encoding": {
"x": {"field": "lag", "type": "quantitative", "scale": {"domain": [-2.2, 252], "nice": false, "zero": false},
"axis": {"title": null, "orient": "bottom", "format": "d", "values": [0,50,100,150,200,250], "tickSize": -9}},
"y": {"field": "r", "type": "quantitative", "scale": {"domain": [-1, 1], "nice": false},
"axis": {"title": null, "orient": "left", "format": ".1f", "values": [-0.5,0,0.5,1], "tickSize": -9}},
"y2": {"datum": 0}
}},
{"data": {"name": "hl"}, "transform": [{"filter": "datum.kind === 'upper'"}],
"mark": {"type": "rule", "color": "#2a9a94", "opacity": 0.6, "strokeWidth": 2.2},
"encoding": {"x": {"field": "from", "type": "quantitative", "axis": null}, "x2": {"field": "to"}, "y": {"field": "level", "type": "quantitative", "axis": null}}},
{"data": {"name": "hl"}, "transform": [{"filter": "datum.kind === 'zero'"}],
"mark": {"type": "rule", "color": "#808080", "strokeWidth": 1.5},
"encoding": {"x": {"field": "from", "type": "quantitative", "axis": null}, "x2": {"field": "to"}, "y": {"field": "level", "type": "quantitative", "axis": null}}},
{"data": {"name": "hl"}, "transform": [{"filter": "datum.kind === 'lower'"}],
"mark": {"type": "rule", "color": "#128686", "strokeWidth": 1.6},
"encoding": {"x": {"field": "from", "type": "quantitative", "axis": null}, "x2": {"field": "to"}, "y": {"field": "level", "type": "quantitative", "axis": null}}},
{"data": {"name": "acf"}, "mark": {"type": "point", "opacity": 0},
"encoding": {
"x": {"field": "lag", "type": "quantitative", "axis": {"title": null, "orient": "bottom", "labels": false, "domain": false, "values": [25,75,125,175,225], "tickSize": -6}},
"y": {"field": "r", "type": "quantitative", "axis": {"title": null, "orient": "left", "labels": false, "domain": false, "values": [-0.9,-0.8,-0.7,-0.6,-0.4,-0.3,-0.2,-0.1,0.1,0.2,0.3,0.4,0.6,0.7,0.8,0.9], "tickSize": -5}}
}}
]
},
{
"width": 557, "height": 352,
"title": {"text": "Variance Profile", "dx": 29, "offset": 0},
"resolve": {"axis": {"x": "independent", "y": "independent"}},
"layer": [
{"data": {"name": "vp"}, "transform": [{"filter": "datum.s !== 'Campito'"}],
"mark": {"type": "line", "strokeWidth": 2.6, "interpolate": "monotone"},
"encoding": {
"x": {"field": "x", "type": "quantitative", "scale": {"domain": [-1, 1], "nice": false, "zero": false},
"axis": {"title": null, "orient": "bottom", "format": ".1f", "values": [-1,-0.5,0,0.5,1], "tickSize": -9}},
"y": {"field": "v", "type": "quantitative", "scale": {"domain": [50, 240], "nice": false, "zero": false},
"axis": {"title": null, "orient": "left", "format": "d", "values": [100,150,200], "tickSize": -9}},
"color": {"field": "s", "type": "nominal",
"scale": {"domain": ["0.3","0.4","Campito","0.35","0.45"], "range": ["#ee2222","#ee2222","#4a6fd0","#ee2222","#ee2222"]},
"legend": {"title": null, "orient": "none", "legendX": 12, "legendY": 419, "columns": 2, "fillColor": "white", "strokeColor": "black", "padding": 4,
"symbolType": "stroke", "symbolSize": 1764, "symbolStrokeWidth": 2.6, "symbolOffset": 15, "labelFont": "Liberation Serif", "labelFontSize": 20.5, "labelColor": "black",
"columnPadding": 6, "rowPadding": 0, "labelOffset": 17,
"encode": {"symbols": {"update": {"strokeWidth": {"signal": "datum.value === 'Campito' ? 1.3 : 2.6"}}}}}},
"strokeDash": {"field": "s", "type": "nominal",
"scale": {"domain": ["0.3","0.4","Campito","0.35","0.45"], "range": [[1,0],[1,0],[7,5],[1,0],[1,0]]}}
}},
{"data": {"name": "band"}, "mark": {"type": "area", "color": "#98d592", "opacity": 0.85, "interpolate": "monotone"},
"encoding": {"x": {"field": "x", "type": "quantitative", "axis": null}, "y": {"field": "lo", "type": "quantitative", "axis": null}, "y2": {"field": "hi"}}},
{"data": {"name": "band"}, "mark": {"type": "area", "color": "#34a043", "opacity": 0.45, "interpolate": "monotone"},
"encoding": {"x": {"field": "x", "type": "quantitative", "axis": null}, "y": {"field": "ilo", "type": "quantitative", "axis": null}, "y2": {"field": "ihi"}}},
{"data": {"name": "vp"}, "transform": [{"filter": "datum.s === 'Campito'"}],
"mark": {"type": "line", "strokeWidth": 1.5, "interpolate": "monotone"},
"encoding": {"x": {"field": "x", "type": "quantitative", "axis": null}, "y": {"field": "v", "type": "quantitative", "axis": null},
"color": {"field": "s", "type": "nominal"}, "strokeDash": {"field": "s", "type": "nominal"}}},
{"data": {"name": "band"}, "mark": {"type": "point", "opacity": 0},
"encoding": {
"x": {"field": "x", "type": "quantitative", "axis": {"title": null, "orient": "bottom", "labels": false, "domain": false, "values": [-0.9,-0.8,-0.7,-0.6,-0.4,-0.3,-0.2,-0.1,0.1,0.2,0.3,0.4,0.6,0.7,0.8,0.9], "tickSize": -5}},
"y": {"field": "lo", "type": "quantitative", "axis": {"title": null, "orient": "left", "labels": false, "domain": false, "values": [60,70,80,90,110,120,130,140,160,170,180,190,210,220,230,240], "tickSize": -5}}
}}
]
},
{
"width": 555, "height": 352,
"title": {"text": "Estimation criterion function", "offset": 0},
"data": {"name": "crit"},
"resolve": {"axis": {"x": "independent", "y": "independent"}},
"layer": [
{"mark": {"type": "line", "color": "#ee2222", "strokeWidth": 2.6, "interpolate": "monotone"},
"encoding": {
"x": {"field": "d", "type": "quantitative", "scale": {"domain": [0.2, 0.49], "nice": false, "zero": false},
"axis": {"title": null, "orient": "bottom", "format": ".2f", "values": [0.2,0.25,0.3,0.35,0.4,0.45], "tickSize": -9}},
"y": {"field": "q", "type": "quantitative", "scale": {"domain": [0, 560], "nice": false},
"axis": {"title": null, "orient": "left", "format": "d", "values": [200,400], "tickSize": -9}}
}},
{"mark": {"type": "point", "opacity": 0},
"encoding": {
"x": {"field": "d", "type": "quantitative", "axis": {"title": null, "orient": "bottom", "labels": false, "domain": false, "values": [0.21,0.22,0.23,0.24,0.26,0.27,0.28,0.29,0.31,0.32,0.33,0.34,0.36,0.37,0.38,0.39,0.41,0.42,0.43,0.44,0.46,0.47,0.48,0.49], "tickSize": -6}},
"y": {"field": "q", "type": "quantitative", "axis": {"title": null, "orient": "left", "labels": false, "domain": false, "values": [40,80,120,160,240,280,320,360,440,480,520,560], "tickSize": -5}}
}}
]
}
],
"columns": 2,
"spacing": {"row": 56, "column": 70},
"bounds": "flush",
"config": {
"font": "Liberation Serif",
"view": {"stroke": null},
"title": {"anchor": "start", "frame": "group", "dx": 27, "font": "Liberation Serif", "fontSize": 26, "fontWeight": "normal", "color": "black"},
"axis": {"labelFont": "Liberation Serif", "labelFontSize": 23, "labelColor": "black", "domainColor": "black", "domainWidth": 1.5, "tickColor": "black", "tickWidth": 1.2, "grid": false, "labelFlush": false, "labelOverlap": false, "labelPadding": 12, "labelBound": false}
}
}
